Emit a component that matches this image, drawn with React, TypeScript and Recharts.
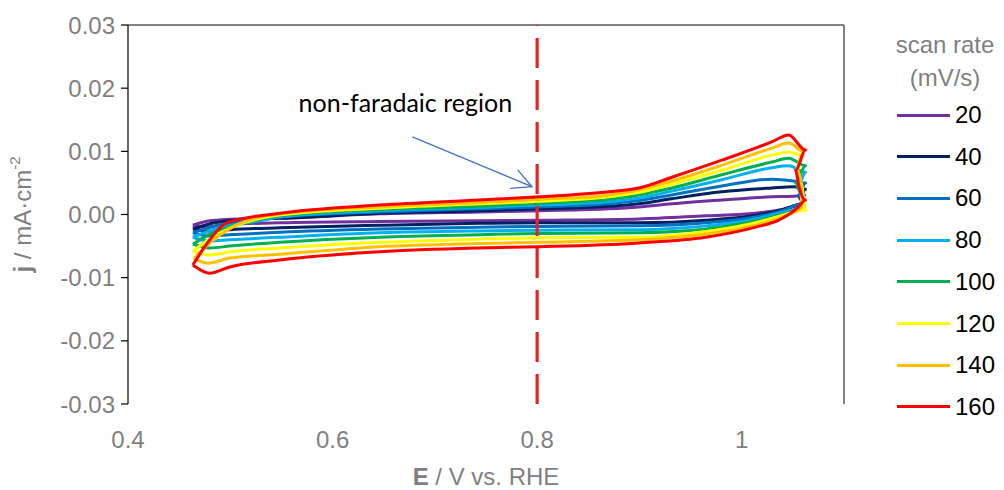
import React from "react";
import { LineChart, Line, XAxis, YAxis, ReferenceLine, Legend } from "recharts";

const FONT = '"Liberation Sans", Arial, sans-serif';
const GREY = "#7f7f7f";

const E_TICKS = [0.4, 0.6, 0.8, 1];
const J_TICKS = [-0.03, -0.02, -0.01, 0, 0.01, 0.02, 0.03];
const SCAN_RATES = [20, 40, 60, 80, 100, 120, 140, 160];
const RATE_COLORS = [
  "#7030A0", "#002060", "#0070C0", "#00B0F0",
  "#00B050", "#FFFF00", "#FFC000", "#FF0000",
];

// dashed marker of the double-layer window + arrow to it
const NON_FARADAIC_E = 0.8;
const ARROW_FROM = { x: 0.678, y: 0.0123 };
const ARROW_TO = { x: 0.795, y: 0.0044 };

// CV loops: [E (V vs RHE), j (mA/cm2)], anodic sweep first, then back
const cv20 = [
  [0.4634, -0.0017], [0.48, -0.001], [0.5093, -0.0007], [0.5483, -0.0006],
  [0.6459, 0.0001], [0.7434, 0.0004], [0.802, 0.0006], [0.8702, 0.0009],
  [0.8995, 0.0012], [0.9317, 0.0017], [0.9805, 0.0023], [1.0293, 0.0028],
  [1.0507, 0.0029], [1.0615, 0.0031], [1.0585, 0.0018], [1.0361, 0.0007],
  [1.0137, 0.0002], [0.9649, -0.0002], [0.8995, -0.0007], [0.802, -0.0009],
  [0.7434, -0.001], [0.6459, -0.0011], [0.5483, -0.0013], [0.4995, -0.0016],
  [0.4751, -0.002], [0.4634, -0.0017],
];
const cv40 = [
  [0.4634, -0.0023], [0.4849, -0.0013], [0.5288, -0.0007], [0.5483, -0.0006],
  [0.6459, 0.0002], [0.7434, 0.0006], [0.802, 0.0009], [0.8702, 0.0013],
  [0.8995, 0.0017], [0.9317, 0.0025], [0.9805, 0.0036], [1.0293, 0.0042],
  [1.0507, 0.0044], [1.0624, 0.004], [1.0566, 0.0026], [1.0605, 0.0017],
  [1.0361, 0.0006], [1.0137, -0.0001], [0.9649, -0.0009], [0.8995, -0.0013],
  [0.802, -0.0013], [0.7434, -0.0014], [0.6459, -0.0017], [0.5483, -0.0021],
  [0.4995, -0.0024], [0.48, -0.0026], [0.4634, -0.0023],
];
const cv60 = [
  [0.4634, -0.0029], [0.4849, -0.0018], [0.5288, -0.0007], [0.5483, -0.0004],
  [0.6459, 0.0004], [0.7434, 0.0009], [0.802, 0.0012], [0.8702, 0.0017],
  [0.8995, 0.0022], [0.9317, 0.0031], [0.9805, 0.0045], [1.0293, 0.0056],
  [1.0507, 0.0053], [1.0624, 0.005], [1.0556, 0.0031], [1.0605, 0.0017],
  [1.0361, 0.0004], [1.0137, -0.0004], [0.9649, -0.0013], [0.8995, -0.0018],
  [0.802, -0.0019], [0.7434, -0.002], [0.6459, -0.0023], [0.5483, -0.0028],
  [0.4995, -0.0032], [0.48, -0.0034], [0.4634, -0.0029],
];
const cv80 = [
  [0.4634, -0.0036], [0.4849, -0.0023], [0.5288, -0.001], [0.5483, -0.0004],
  [0.6459, 0.0006], [0.7434, 0.0011], [0.802, 0.0015], [0.8702, 0.002],
  [0.8995, 0.0026], [0.9317, 0.0037], [0.9805, 0.0055], [1.0293, 0.0074],
  [1.0459, 0.0077], [1.0624, 0.0067], [1.0546, 0.0042], [1.0605, 0.0023],
  [1.0585, 0.0012], [1.0361, 0.0002], [1.0137, -0.0007], [0.9649, -0.0018],
  [0.8995, -0.0024], [0.802, -0.0025], [0.7434, -0.0026], [0.6459, -0.0029],
  [0.5483, -0.0036], [0.4995, -0.004], [0.48, -0.0042], [0.4634, -0.0036],
];
const cv100 = [
  [0.4634, -0.0047], [0.48, -0.0031], [0.5093, -0.0015], [0.5483, -0.0002],
  [0.6459, 0.0008], [0.7434, 0.0013], [0.802, 0.0018], [0.8702, 0.0024],
  [0.8995, 0.0031], [0.9317, 0.0042], [0.9805, 0.0063], [1.0293, 0.0083],
  [1.0459, 0.0089], [1.0624, 0.0077], [1.0527, 0.005], [1.0595, 0.0029],
  [1.0585, 0.0012], [1.0361, -0.0001], [1.0137, -0.001], [0.9649, -0.0023],
  [0.8995, -0.0029], [0.802, -0.003], [0.7434, -0.0032], [0.6459, -0.0036],
  [0.5483, -0.0044], [0.4995, -0.005], [0.48, -0.0053], [0.4634, -0.0047],
];
const cv120 = [
  [0.4634, -0.0058], [0.48, -0.0039], [0.5044, -0.0018], [0.5483, -0.0001],
  [0.6459, 0.001], [0.7434, 0.0017], [0.802, 0.0021], [0.8702, 0.0028],
  [0.8995, 0.0035], [0.9317, 0.0048], [0.9805, 0.007], [1.0293, 0.0094],
  [1.0459, 0.0099], [1.0585, 0.0094], [1.0537, 0.007], [1.0595, 0.0039],
  [1.0624, 0.0007], [1.0361, -0.0003], [1.0137, -0.0013], [0.9649, -0.0027],
  [0.8995, -0.0036], [0.802, -0.0037], [0.7434, -0.0039], [0.6459, -0.0044],
  [0.5483, -0.0053], [0.4995, -0.0059], [0.48, -0.0064], [0.4634, -0.0058],
];
const cv140 = [
  [0.4644, -0.007], [0.48, -0.0045], [0.5044, -0.0018], [0.5483, 0.0001],
  [0.6459, 0.0012], [0.7434, 0.0019], [0.802, 0.0024], [0.8702, 0.0031],
  [0.8995, 0.0039], [0.9317, 0.0053], [0.9805, 0.0078], [1.0293, 0.0105],
  [1.0459, 0.0113], [1.0605, 0.01], [1.0537, 0.0074], [1.0585, 0.004],
  [1.0585, 0.0012], [1.0361, -0.0006], [1.0137, -0.0017], [0.9649, -0.0031],
  [0.8995, -0.004], [0.802, -0.0044], [0.7434, -0.0046], [0.6459, -0.0051],
  [0.5483, -0.0063], [0.4995, -0.0069], [0.478, -0.0077], [0.4644, -0.007],
];
const cv160 = [
  [0.4634, -0.008], [0.48, -0.004], [0.4966, -0.0013], [0.5483, 0.0002],
  [0.6459, 0.0015], [0.7434, 0.0023], [0.802, 0.0028], [0.8702, 0.0036],
  [0.8995, 0.0042], [0.9317, 0.0059], [0.9805, 0.0086], [1.0293, 0.0115],
  [1.0459, 0.0126], [1.0624, 0.0102], [1.0527, 0.007], [1.0556, 0.0047],
  [1.0624, 0.0023], [1.0556, 0.0012], [1.0361, -0.0009], [1.0137, -0.002],
  [0.9649, -0.0036], [0.8995, -0.0045], [0.802, -0.0051], [0.7434, -0.0053],
  [0.6459, -0.0059], [0.5483, -0.0072], [0.4995, -0.0083], [0.48, -0.0093],
  [0.4634, -0.008],
];

const CURVES = [cv20, cv40, cv60, cv80, cv100, cv120, cv140, cv160];

const series = SCAN_RATES.map((rate, i) => ({
  rate,
  color: RATE_COLORS[i],
  points: CURVES[i].map(([x, y]) => ({ x, y })),
}));

function ScanRateLegend({ payload }: any) {
  const items = [...(payload || [])].sort((a, b) => Number(a.value) - Number(b.value));
  return (
    <div style={{ position: "relative", width: 144, height: 490, fontFamily: FONT, fontSize: 24 }}>
      <div
        style={{
          position: "absolute", left: 0, top: 28, width: 170,
          textAlign: "center", color: GREY, lineHeight: "33px",
        }}
      >
        scan rate<br />(mV/s)
      </div>
      {items.map((p: any, i: number) => (
        <div
          key={p.value}
          style={{
            position: "absolute", left: 37, top: 115 + i * 41.7 - 14, height: 28,
            display: "flex", alignItems: "center",
          }}
        >
          <span style={{ display: "inline-block", width: 53, height: 3, background: p.color }} />
          <span style={{ marginLeft: 5, color: "#000" }}>{p.value}</span>
        </div>
      ))}
    </div>
  );
}

const ArrowNote = (props: any) => {
  const { x1, y1, x2, y2 } = props;
  const ang = Math.atan2(y2 - y1, x2 - x1);
  const head = 22;
  const spread = (27 * Math.PI) / 180;
  const ax = x2 - head * Math.cos(ang - spread);
  const ay = y2 - head * Math.sin(ang - spread);
  const bx = x2 - head * Math.cos(ang + spread);
  const by = y2 - head * Math.sin(ang + spread);
  return (
    <g>
      <text x={x1 - 7} y={y1 - 25} textAnchor="middle" fontFamily="Lato" fontSize={25} fill="#000">
        non-faradaic region
      </text>
      <line x1={x1} y1={y1} x2={x2} y2={y2} stroke="#4472C4" strokeWidth={1.3} />
      <polyline
        points={`${ax},${ay} ${x2},${y2} ${bx},${by}`}
        fill="none"
        stroke="#4472C4"
        strokeWidth={1.3}
      />
    </g>
  );
};

const renderJTitle = ({ viewBox }: any) => {
  const cy = viewBox.y + viewBox.height / 2;
  return (
    <text
      x={22} y={cy} transform={`rotate(-90 22 ${cy})`} textAnchor="middle"
      dominantBaseline="central" fill={GREY} fontSize={24} fontFamily={FONT}
    >
      <tspan fontWeight="bold">j</tspan> / mA·cm<tspan dy={-8} fontSize={15}>-2</tspan>
    </text>
  );
};

const renderETitle = ({ viewBox }: any) => {
  const cx = viewBox.x + viewBox.width / 2;
  return (
    <text
      x={cx} y={476} textAnchor="middle" dominantBaseline="central"
      fill={GREY} fontSize={24} fontFamily={FONT}
    >
      <tspan fontWeight="bold">E</tspan> / V vs. RHE
    </text>
  );
};

export default function App() {
  const tick = { fill: GREY, fontSize: 24, fontFamily: FONT };
  return (
    <div style={{ position: "absolute", left: 0, top: 0, background: "#fff" }}>
      <LineChart width={1004} height={490} margin={{ top: 25, right: 160, bottom: 0, left: 0 }}>
        <XAxis
          type="number"
          dataKey="x"
          domain={[0.4, 1.1]}
          ticks={E_TICKS}
          allowDataOverflow
          height={86}
          axisLine={false}
          tickLine={false}
          tickSize={0}
          tickMargin={27}
          tick={tick}
          tickFormatter={(v: number) => String(v)}
          label={{ content: renderETitle }}
        />
        <YAxis
          type="number"
          domain={[-0.03, 0.03]}
          ticks={J_TICKS}
          allowDataOverflow
          width={128}
          axisLine={{ stroke: "#000", strokeWidth: 1.2 }}
          tickLine={{ stroke: "#000", strokeWidth: 1.2 }}
          tickSize={7}
          tickMargin={6}
          tick={tick}
          tickFormatter={(v: number) => v.toFixed(2)}
          label={{ content: renderJTitle }}
        />
        <ReferenceLine y={0.03} stroke="#595959" strokeWidth={1.5} />
        <ReferenceLine x={1.1} stroke="#595959" strokeWidth={1.5} />
        {series.map((s) => (
          <Line
            key={s.rate}
            name={String(s.rate)}
            data={s.points}
            dataKey="y"
            type="monotoneX"
            stroke={s.color}
            strokeWidth={3}
            strokeLinejoin="round"
            dot={false}
            activeDot={false}
            isAnimationActive={false}
          />
        ))}
        <ReferenceLine
          x={NON_FARADAIC_E}
          stroke="#E5232A"
          strokeWidth={3.2}
          strokeDasharray="30 12"
        />
        <ReferenceLine segment={[ARROW_FROM, ARROW_TO]} shape={ArrowNote} />
        <Legend
          layout="horizontal"
          verticalAlign="middle"
          align="center"
          content={ScanRateLegend}
          wrapperStyle={{ left: 860, top: 0, width: 144, height: 490 }}
        />
      </LineChart>
    </div>
  );
}
